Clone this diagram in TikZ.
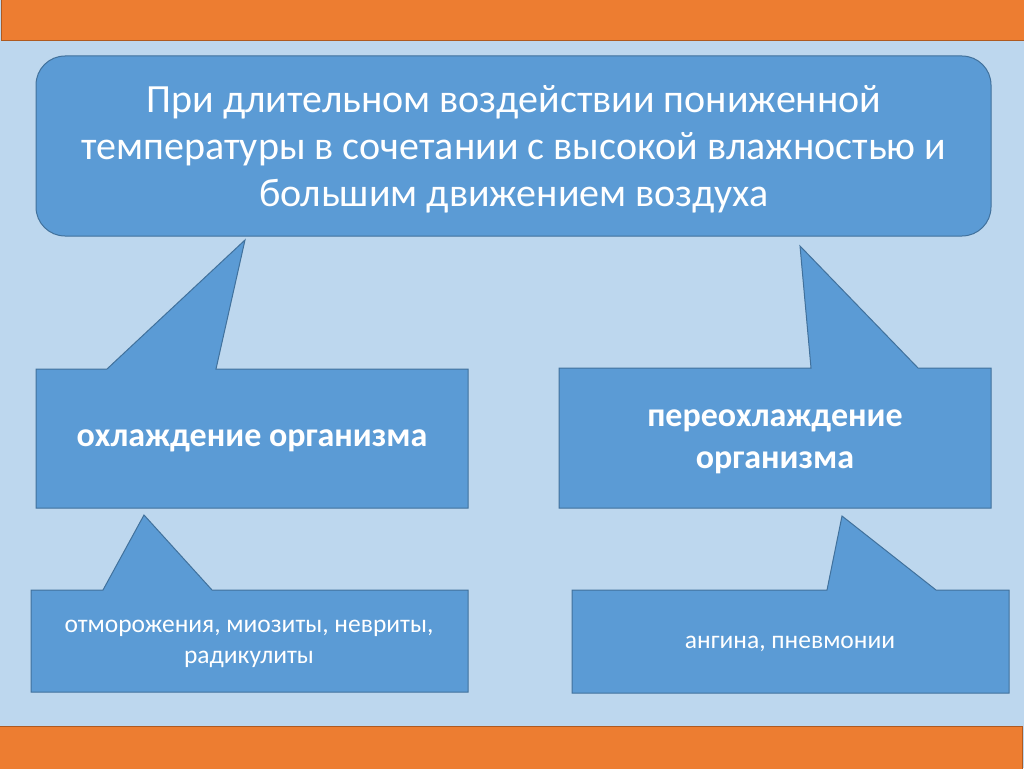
\documentclass[tikz,border=0pt]{standalone}
\usepackage{fontspec}
\setmainfont{Carlito}
\definecolor{bgblue}{HTML}{BDD7EE}
\definecolor{boxblue}{HTML}{5B9BD5}
\definecolor{boxedge}{HTML}{41719C}
\definecolor{barorange}{HTML}{ED7D31}
\definecolor{baredge}{HTML}{AE5A21}
\tikzset{
  bar/.style={fill=barorange, draw=baredge, line width=1pt},
  shapebox/.style={fill=boxblue, draw=boxedge, line width=1pt, line join=miter},
  label/.style={text=white, align=center, inner sep=0pt},
}
\begin{document}
\begin{tikzpicture}[x=1pt,y=-1pt]
\useasboundingbox (0,0) rectangle (1024,768);
\fill[bgblue] (0,0) rectangle (1024,768);
% orange bars
\draw[bar] (1,-2) rectangle (1026,41);
\draw[bar] (-2,726) rectangle (1022,770);
% top rounded box
\draw[shapebox, rounded corners=29pt] (36,56) rectangle (991,236);
\node[label, font=\fontsize{40}{47}\selectfont] (top) at (514,149)
  {При длительном воздействии пониженной\\температуры в сочетании с высокой влажностью и\\большим движением воздуха};
% left callout
\draw[shapebox] (36,369) -- (107,369) -- (245,240) -- (216,369) -- (468,369)
  -- (468,508) -- (36,508) -- cycle;
\node[label, font=\fontsize{34}{42}\bfseries\selectfont] (cool) at (252,441) {охлаждение организма};
% right callout
\draw[shapebox] (559,368) -- (811,368) -- (800,246) -- (918,368) -- (991,368)
  -- (991,508) -- (559,508) -- cycle;
\node[label, font=\fontsize{34}{42}\bfseries\selectfont] (hypo) at (775,442) {переохлаждение\\организма};
% lower left callout
\draw[shapebox] (31,590) -- (103,590) -- (144,515) -- (212,590) -- (468,590)
  -- (468,692) -- (31,692) -- cycle;
\node[label, font=\fontsize{25.5}{31}\selectfont] (frost) at (249,644) {отморожения, миозиты, невриты,\\радикулиты};
% lower right callout
\draw[shapebox] (572,590) -- (827,590) -- (842,516) -- (936,590) -- (1009,590)
  -- (1009,693) -- (572,693) -- cycle;
\node[label, font=\fontsize{25.5}{31}\selectfont] (angina) at (790,644) {ангина, пневмонии};
\end{tikzpicture}
\end{document}
